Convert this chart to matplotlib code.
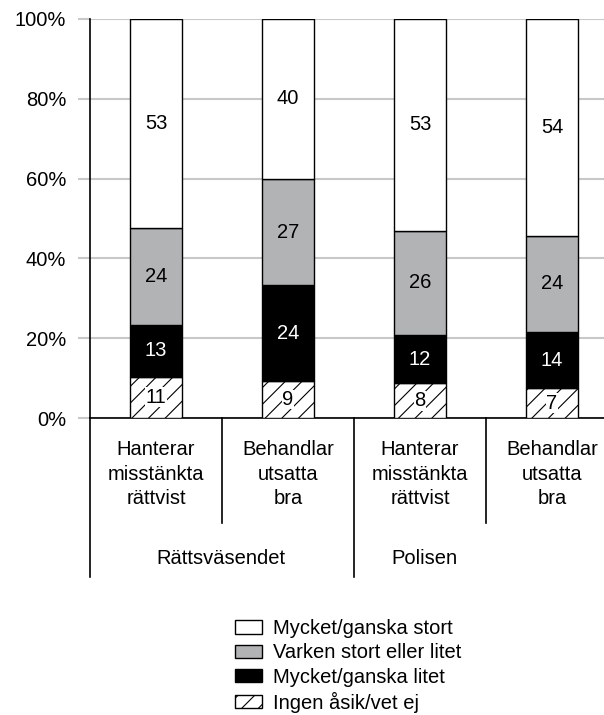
import matplotlib
matplotlib.use("Agg")
import matplotlib.pyplot as plt
from matplotlib.lines import Line2D
from matplotlib.patches import Patch

plt.rcParams['font.family'] = ['Liberation Sans', 'DejaVu Sans']
plt.rcParams['hatch.linewidth'] = 0.8

categories = ["Hanterar\nmisstänkta\nrättvist", "Behandlar\nutsatta\nbra",
              "Hanterar\nmisstänkta\nrättvist", "Behandlar\nutsatta\nbra"]
groups = ["Rättsväsendet", "Polisen"]
series_names = ["Ingen åsik/vet ej", "Mycket/ganska litet",
                "Varken stort eller litet", "Mycket/ganska stort"]

# plotted shares (%), bottom to top
ingen = [10.4, 9.3, 8.7, 7.4]
litet = [12.9, 24.0, 12.1, 14.1]
varken = [24.2, 26.6, 26.1, 24.2]
stort = [52.5, 40.1, 53.1, 54.3]

# printed labels
lbl_ingen = [11, 9, 8, 7]
lbl_litet = [13, 24, 12, 14]
lbl_varken = [24, 27, 26, 24]
lbl_stort = [53, 40, 53, 54]

yticks = [0, 20, 40, 60, 80, 100]

fig = plt.figure(figsize=(6.04, 7.15), dpi=100)
W, H = 604, 715
ax = fig.add_axes([90 / W, (H - 418) / H, (W - 90) / W, (418 - 19) / H])
ax.set_xlim(-0.5, -0.5 + (W - 90) / 132)
ax.set_ylim(0, 100)

x = list(range(len(categories)))
bw = 0.39
fs = 14.5

series = [
    (ingen, lbl_ingen, "white", "//", "black"),
    (litet, lbl_litet, "black", None, "white"),
    (varken, lbl_varken, "#b2b3b5", None, "black"),
    (stort, lbl_stort, "white", None, "black"),
]
bottom = [0.0] * 4
handles = []
for (vals, lbls, col, hatch, tcol), name in zip(series, series_names):
    ax.bar(x, vals, bw, bottom=bottom, color=col, edgecolor="black",
           linewidth=1.0, hatch=hatch, zorder=3)
    for i in x:
        ax.text(i, bottom[i] + vals[i] / 2, str(lbls[i]), ha="center",
                va="center", fontsize=fs, color=tcol, zorder=4,
                bbox=dict(facecolor="white", edgecolor="none", pad=0.3) if hatch else None)
    bottom = [b + v for b, v in zip(bottom, vals)]
    handles.append(Patch(facecolor=col, edgecolor="black", hatch=hatch,
                         linewidth=1.0, label=name))

ax.set_yticks(yticks)
ax.set_yticklabels([f"{t}%" for t in yticks], fontsize=fs)
ax.set_xticks([])
ax.yaxis.grid(True, color="#c8c8c8", linewidth=1.5)
ax.set_axisbelow(True)
ax.tick_params(axis="y", length=8.6, width=1.5, color="#c8c8c8", pad=8.5)
for s in ["top", "right"]:
    ax.spines[s].set_visible(False)
ax.spines["left"].set_linewidth(1.2)
ax.spines["bottom"].set_linewidth(1.2)

ppu = 399 / 100.0
long_y = -(577 - 418) / ppu
short_y = -(523 - 418) / ppu
for xs, yb in [(-0.5, long_y), (0.5, short_y), (1.5, long_y), (2.5, short_y)]:
    ax.add_line(Line2D([xs, xs], [0, yb], color="black", linewidth=1.2,
                       clip_on=False))

for i, c in enumerate(categories):
    ax.text(i, -(474 - 418) / ppu, c, ha="center", va="center",
            fontsize=fs, linespacing=1.38, multialignment="center")

ax.text((221 - 156) / 132, -(558 - 418) / ppu, groups[0], ha="center",
        va="center", fontsize=fs)
ax.text((424 - 156) / 132, -(558 - 418) / ppu, groups[1], ha="center",
        va="center", fontsize=fs)

leg = fig.legend(handles=handles[::-1], loc="upper left",
                 bbox_to_anchor=(225 / W, 1 - 609 / H), frameon=False,
                 fontsize=fs, handlelength=1.35, handleheight=0.65,
                 handletextpad=0.55, labelspacing=0.26, borderpad=0)

fig.savefig("out.png", dpi=100)
